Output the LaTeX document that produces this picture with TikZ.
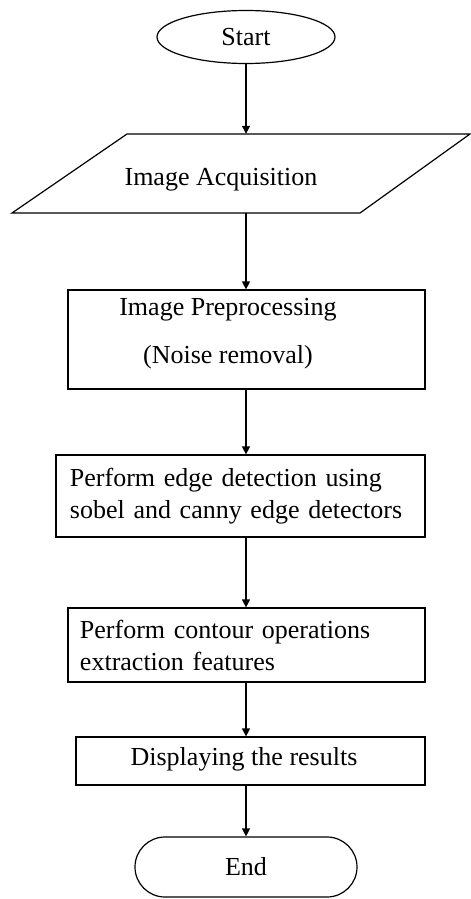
\documentclass[tikz,border=0pt]{standalone}
\usepackage{fontspec}
\setmainfont{Liberation Serif}
\usetikzlibrary{shapes.geometric,shapes.misc,arrows.meta}
\begin{document}
\begin{tikzpicture}[x=1bp,y=-1bp,
  every node/.style={font=\fontsize{26bp}{32bp}\selectfont, inner sep=0pt},
  box/.style={draw, line width=1.2bp, rectangle},
  conn/.style={line width=1.2bp, -{Triangle[length=8bp,width=8bp]}},
  txt/.style={text=black}]
\useasboundingbox (0,0) rectangle (471,899);
% Start
\node[draw, ellipse, line width=1.2bp, minimum width=178bp, minimum height=53bp] (start) at (246,37) {Start};
% Image Acquisition (parallelogram)
\node[minimum width=200bp, minimum height=79bp] (acq) at (246,173.5) {};
\draw[line width=1.2bp] (127,134) -- (470,134) -- (360,213) -- (12,213) -- cycle;
\node[txt] (acqtext) at (221,180) {Image Acquisition};
% Preprocessing
\node[box, minimum width=357bp, minimum height=99bp] (prep) at (246.5,339.5) {};
\node[txt, align=center] (preptext) at (228,334) {Image Preprocessing\\[16bp](Noise removal)};
% Edge detection
\node[box, minimum width=369bp, minimum height=82bp, text width=341bp, inner xsep=14bp, align=left] (edge) at (240.5,496) {Perform edge detection using\\sobel and canny edge detectors};
% Contour
\node[box, minimum width=357bp, minimum height=74bp, text width=333bp, inner xsep=12bp, align=left] (contour) at (246.5,645) {Perform contour operations\\extraction features};
% Display
\node[box, minimum width=349bp, minimum height=48bp] (disp) at (250.5,761) {};
\node[txt] (disptext) at (244,759) {Displaying the results};
% End
\node[draw, rounded rectangle, line width=1.2bp, minimum width=222bp, minimum height=60bp] (end) at (246,867) {End};
% Connectors
\draw[conn] (start.south) -- (start.south |- acq.north);
\draw[conn] (acq.south) -- (acq.south |- prep.north);
\draw[conn] (prep.south -| acq.south) -- (acq.south |- edge.north);
\draw[conn] (acq.south |- edge.south) -- (acq.south |- contour.north);
\draw[conn] (acq.south |- contour.south) -- (acq.south |- disp.north);
\draw[conn] (acq.south |- disp.south) -- (end.north);
\end{tikzpicture}
\end{document}
